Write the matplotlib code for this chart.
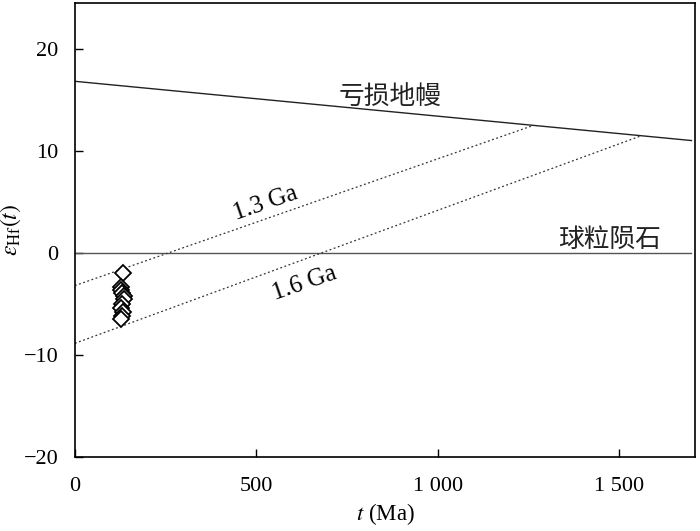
import matplotlib
matplotlib.use("Agg")
import matplotlib.pyplot as plt
import numpy as np
from matplotlib.ticker import FuncFormatter

plt.rcParams["font.family"] = ["Liberation Serif", "Noto Sans CJK SC"]
plt.rcParams["mathtext.fontset"] = "stix"

# depleted mantle and chondrite reference lines
dm_t = [0, 1700]
dm_eps = [16.8, 11.0]
chur_t = [0, 1700]
chur_eps = [0, 0]

# crustal model age lines (start at t=0, end on DM curve)
ga13_t = [0, 1263]
ga13_eps = [-3.2, 12.47]
ga16_t = [0, 1560]
ga16_eps = [-8.85, 11.45]

# zircon data
age = [132, 126, 128, 131, 134, 136, 130, 127, 133, 129, 126]
eps_hf = [-2.0, -3.3, -3.6, -3.9, -4.2, -4.5, -5.0, -5.4, -5.8, -6.2, -6.5]

fig = plt.figure(figsize=(7, 5.31), dpi=100)
ax = fig.add_axes([0.107, 0.139, 0.886, 0.856])

ax.plot(dm_t, dm_eps, color="#222222", lw=1.0)
ax.plot(chur_t, chur_eps, color="#555555", lw=1.0)
ax.plot(ga13_t, ga13_eps, color="#333333", lw=0.9, linestyle=(0, (1.5, 2)))
ax.plot(ga16_t, ga16_eps, color="#333333", lw=0.9, linestyle=(0, (1.5, 2)))
ax.plot(age, eps_hf, linestyle="none", marker="D", ms=8.5, mfc="white",
        mec="black", mew=1.3)

ax.text(869, 15.2, "亏损地幔", fontsize=18.5, ha="center", va="center",
        family=["Noto Sans CJK SC"], color="#222222")
ax.text(1475, 1.25, "球粒陨石", fontsize=18.5, ha="center", va="center",
        family=["Noto Sans CJK SC"], color="#222222")
ax.text(526, 4.85, "1.3 Ga", fontsize=18, ha="center", va="center", rotation=19)
ax.text(632, -3.0, "1.6 Ga", fontsize=18, ha="center", va="center", rotation=19)

ax.set_xlim(0, 1710)
ax.set_ylim(-20, 24.5)
ax.set_xticks([0, 500, 1000, 1500])
ax.set_yticks([-20, -10, 0, 10, 20])
ax.xaxis.set_major_formatter(FuncFormatter(lambda v, p: f"{int(v):,}".replace(",", " ")))
ax.yaxis.set_major_formatter(FuncFormatter(lambda v, p: f"{int(v)}".replace("-", "\u2212")))
ax.tick_params(direction="in", length=6, width=1.0, labelsize=16)
ax.tick_params(axis="x", pad=14)
ax.tick_params(axis="y", pad=12)
for s in ax.spines.values():
    s.set_linewidth(1.2)

ax.set_xlabel(r"$t$ (Ma)", fontsize=16.5, labelpad=4)
ax.set_ylabel(r"$\varepsilon_{\mathrm{Hf}}(t)$", fontsize=17, labelpad=0)

fig.savefig("out.png", dpi=100)
